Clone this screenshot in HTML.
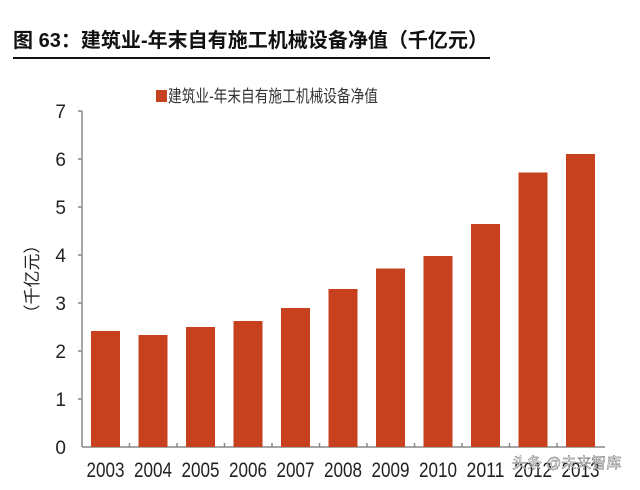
<!DOCTYPE html>
<html><head><meta charset="utf-8"><style>
body{margin:0;background:#fff;width:640px;height:485px;overflow:hidden}
</style></head><body>
<svg width="640" height="485" xmlns="http://www.w3.org/2000/svg" font-family="Liberation Sans, Noto Sans CJK SC, sans-serif">
<text x="13" y="47" font-size="20" font-weight="bold" fill="#111" textLength="475" lengthAdjust="spacingAndGlyphs">图 63：建筑业-年末自有施工机械设备净值（千亿元）</text>
<rect x="13" y="57" width="477" height="2" fill="#111"/>
<rect x="156" y="90" width="11" height="12" fill="#c8411f"/>
<text x="168" y="102" font-size="17" fill="#333" textLength="210" lengthAdjust="spacingAndGlyphs">建筑业-年末自有施工机械设备净值</text>
<g stroke="#888" stroke-width="1.5" fill="none">
<line x1="82" y1="111" x2="82" y2="447"/>
<line x1="82" y1="447" x2="605" y2="447"/>
<line x1="78" y1="111" x2="82" y2="111"/><line x1="78" y1="159" x2="82" y2="159"/><line x1="78" y1="207" x2="82" y2="207"/><line x1="78" y1="255" x2="82" y2="255"/><line x1="78" y1="303" x2="82" y2="303"/><line x1="78" y1="351" x2="82" y2="351"/><line x1="78" y1="399" x2="82" y2="399"/>
</g>
<g font-size="19" fill="#222" text-anchor="end">
<text x="66" y="118">7</text><text x="66" y="166">6</text><text x="66" y="214">5</text><text x="66" y="262">4</text><text x="66" y="310">3</text><text x="66" y="358">2</text><text x="66" y="406">1</text><text x="66" y="454">0</text>
</g>
<text transform="translate(38,279) rotate(-90)" font-size="17" fill="#222" text-anchor="middle">（千亿元）</text>
<g fill="#c8411f">
<rect x="91" y="331" width="29" height="116"/>
<rect x="138.5" y="335" width="29" height="112"/>
<rect x="186" y="327" width="29" height="120"/>
<rect x="233.5" y="321" width="29" height="126"/>
<rect x="281" y="308" width="29" height="139"/>
<rect x="328.5" y="289" width="29" height="158"/>
<rect x="376" y="268.5" width="29" height="178.5"/>
<rect x="423.5" y="256" width="29" height="191"/>
<rect x="471" y="224" width="29" height="223"/>
<rect x="518.5" y="172.5" width="29" height="274.5"/>
<rect x="566" y="154" width="29" height="293"/>
</g>
<g stroke="#888" stroke-width="1.5">
<line x1="129.5" y1="443" x2="129.5" y2="447"/><line x1="177" y1="443" x2="177" y2="447"/><line x1="224.5" y1="443" x2="224.5" y2="447"/><line x1="272" y1="443" x2="272" y2="447"/><line x1="319.5" y1="443" x2="319.5" y2="447"/><line x1="367" y1="443" x2="367" y2="447"/><line x1="414.5" y1="443" x2="414.5" y2="447"/><line x1="462" y1="443" x2="462" y2="447"/><line x1="509.5" y1="443" x2="509.5" y2="447"/><line x1="557" y1="443" x2="557" y2="447"/>
</g>
<g font-size="21" fill="#222" text-anchor="middle" lengthAdjust="spacingAndGlyphs">
<text x="105.5" y="477" textLength="38" lengthAdjust="spacingAndGlyphs">2003</text><text x="153" y="477" textLength="38" lengthAdjust="spacingAndGlyphs">2004</text><text x="200.5" y="477" textLength="38" lengthAdjust="spacingAndGlyphs">2005</text><text x="248" y="477" textLength="38" lengthAdjust="spacingAndGlyphs">2006</text><text x="295.5" y="477" textLength="38" lengthAdjust="spacingAndGlyphs">2007</text><text x="343" y="477" textLength="38" lengthAdjust="spacingAndGlyphs">2008</text><text x="390.5" y="477" textLength="38" lengthAdjust="spacingAndGlyphs">2009</text><text x="438" y="477" textLength="38" lengthAdjust="spacingAndGlyphs">2010</text><text x="485.5" y="477" textLength="38" lengthAdjust="spacingAndGlyphs">2011</text><text x="533" y="477" textLength="38" lengthAdjust="spacingAndGlyphs">2012</text><text x="580.5" y="477" textLength="38" lengthAdjust="spacingAndGlyphs">2013</text>
</g>
<text x="512" y="468" font-size="15" fill="#fff" stroke="#555" stroke-width="0.4">头条 @未来智库</text>
</svg>
</body></html>
